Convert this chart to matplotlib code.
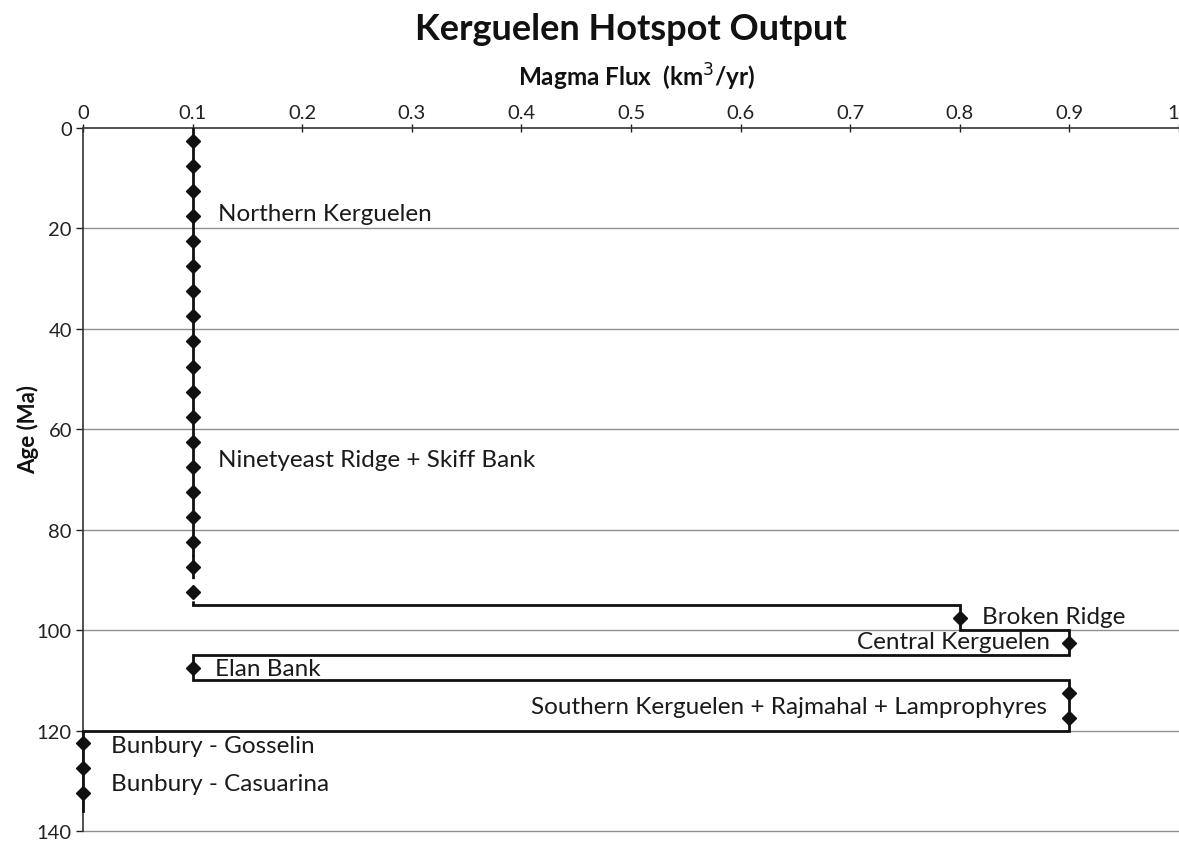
import matplotlib
matplotlib.use("Agg")
import matplotlib.pyplot as plt

plt.rcParams['font.family'] = ['Lato', 'DejaVu Sans']

# Step path of magma flux vs age
seg_ages = [0, 95, 100, 105, 110, 120, 136]
seg_flux = [0.1, 0.8, 0.9, 0.1, 0.9, 0.0]
dashed_from = 85  # first segment is dashed between 85 and 95 Ma

# Data points (diamonds)
pt_ages = [2.5, 7.5, 12.5, 17.5, 22.5, 27.5, 32.5, 37.5, 42.5, 47.5, 52.5,
           57.5, 62.5, 67.5, 72.5, 77.5, 82.5, 87.5, 92.5,
           97.5, 102.5, 107.5, 112.5, 117.5, 122.5, 127.5, 132.5]
pt_flux = [0.1] * 19 + [0.8, 0.9, 0.1, 0.9, 0.9, 0.0, 0.0, 0.0]

labels = ["Northern Kerguelen", "Ninetyeast Ridge + Skiff Bank", "Broken Ridge",
          "Central Kerguelen", "Elan Bank",
          "Southern Kerguelen + Rajmahal + Lamprophyres",
          "Bunbury - Gosselin", "Bunbury - Casuarina"]
label_x = [0.123, 0.123, 0.82, 0.882, 0.12, 0.880, 0.026, 0.026]
label_y = [17.1, 66.0, 97.3, 102.3, 107.7, 115.2, 123.0, 130.6]
label_ha = ["left", "left", "left", "right", "left", "right", "left", "left"]

xticks = [0, 0.1, 0.2, 0.3, 0.4, 0.5, 0.6, 0.7, 0.8, 0.9, 1]
xticklabels = ["0", "0.1", "0.2", "0.3", "0.4", "0.5", "0.6", "0.7", "0.8", "0.9", "1"]
yticks = [0, 20, 40, 60, 80, 100, 120, 140]

fig = plt.figure(figsize=(11.79, 8.45), dpi=100)
ax = fig.add_axes([0.0704, 0.0154, 0.9296, 0.8319])

ax.set_xlim(0, 1)
ax.set_ylim(140, 0)

# gridlines
for yv in yticks[1:]:
    ax.axhline(yv, color='#8f8f8f', lw=1.0, zorder=1, clip_on=False)

# build step path vertices
xs, ys = [], []
for i, f in enumerate(seg_flux):
    xs += [f, f]
    ys += [seg_ages[i], seg_ages[i + 1]]
# first segment solid then dashed
ax.plot([seg_flux[0], seg_flux[0]], [seg_ages[0], dashed_from], color='#111111', lw=2.0, zorder=3)
ax.plot([seg_flux[0], seg_flux[0]], [dashed_from, seg_ages[1]], color='#111111', lw=2.0,
        ls=(0, (3, 2.5)), zorder=3)
# remaining path (horizontal connectors + verticals)
ax.plot(xs[1:], ys[1:], color='#111111', lw=2.0, zorder=3, clip_on=False, solid_joinstyle='miter')

ax.plot(pt_flux, pt_ages, ls='none', marker='D', ms=7, color='#111111', zorder=4, clip_on=False)

for t, x, y, ha in zip(labels, label_x, label_y, label_ha):
    ax.text(x, y, t, ha=ha, va='center', fontsize=17.5, color='#1a1a1a')

# axes styling
ax.xaxis.tick_top()
ax.set_xticks(xticks)
ax.set_xticklabels(xticklabels, fontsize=14.5)
ax.get_xticklabels()[-1].set_horizontalalignment('right')
ax.set_yticks(yticks)
ax.set_yticklabels([str(v) for v in yticks], fontsize=14.5)
ax.tick_params(axis='x', direction='inout', length=6, width=1, pad=2, colors='#222222')
ax.tick_params(axis='y', direction='out', length=5, width=1, pad=3, colors='#222222')
for s in ['right', 'bottom']:
    ax.spines[s].set_visible(False)
for s in ['left', 'top']:
    ax.spines[s].set_color('#333333')
    ax.spines[s].set_linewidth(1.2)

fig.text(28 / 1179, 1 - 430 / 845, "Age (Ma)", rotation=90, ha='center', va='center',
         fontsize=16, fontweight='bold', color='#111111')

fig.text(631 / 1179, 1 - 30 / 845, "Kerguelen Hotspot Output", ha='center', va='center',
         fontsize=26, fontweight='bold', color='#111111')
fig.text(636 / 1179, 1 - 77 / 845, r"Magma Flux  (km$^3$/yr)", ha='center', va='center',
         fontsize=17.5, fontweight='bold', color='#111111')

fig.savefig("out.png", dpi=100)
